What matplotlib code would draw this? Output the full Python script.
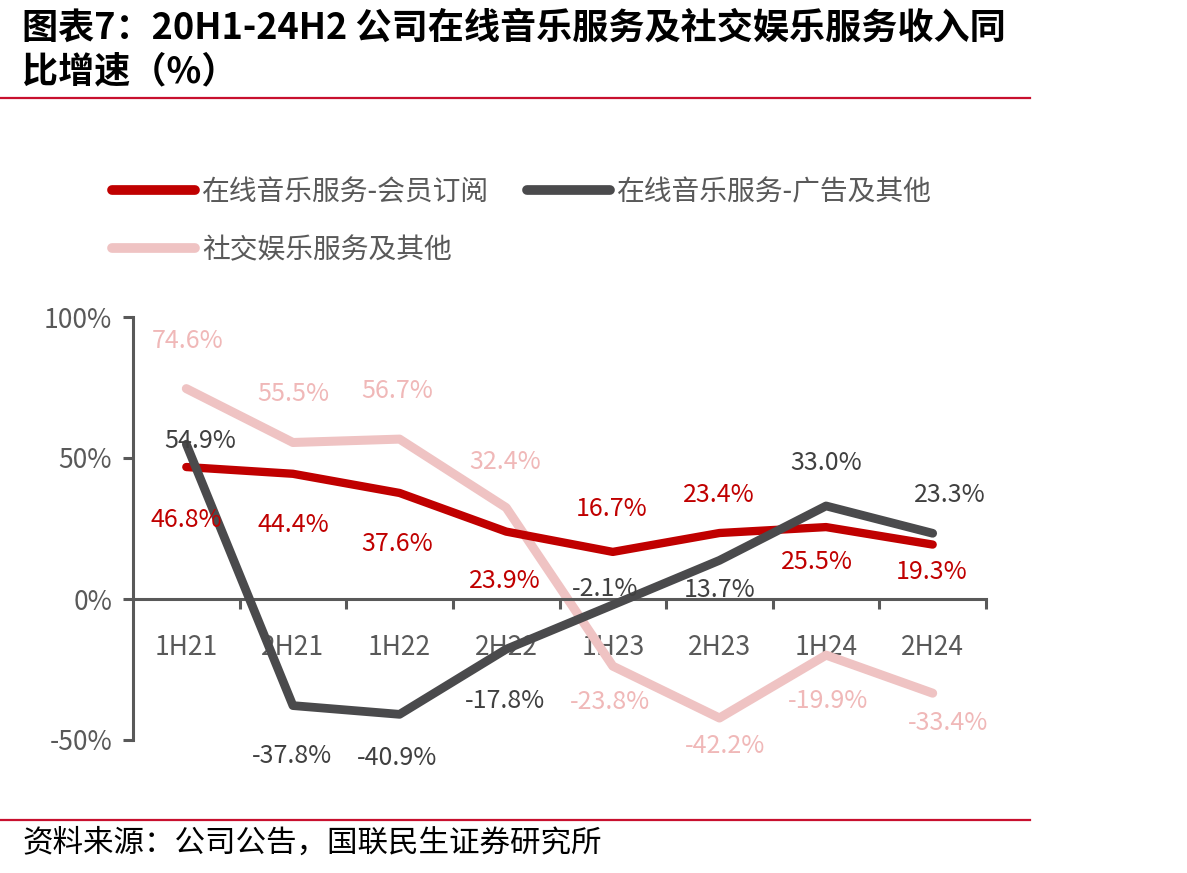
import matplotlib
matplotlib.use('Agg')
import matplotlib.pyplot as plt
from matplotlib.lines import Line2D

plt.rcParams['font.family'] = ['Noto Sans CJK SC', 'DejaVu Sans']

# 数据
periods = ['1H21', '2H21', '1H22', '2H22', '1H23', '2H23', '1H24', '2H24']
member_sub = [46.8, 44.4, 37.6, 23.9, 16.7, 23.4, 25.5, 19.3]
ads_other = [54.9, -37.8, -40.9, -17.8, -2.1, 13.7, 33.0, 23.3]
social_ent = [74.6, 55.5, 56.7, 32.4, -23.8, -42.2, -19.9, -33.4]
series_names = ['在线音乐服务-会员订阅', '在线音乐服务-广告及其他', '社交娱乐服务及其他']

# 样式
c_red, c_gray, c_pink = '#C00000', '#4A4A4C', '#EFC3C3'
lbl_red, lbl_gray, lbl_pink = '#C00000', '#404040', '#F0B8B8'

# 数据标签偏移（像素）
off_red = [(0, -53), (0, -51), (-2, -51), (-1, -49), (-1, 43), (-1, 38), (-9, -35), (-1, -27)]
off_gray = [(14, 3), (-1, -50), (-2, -44), (-1, -52), (-8, 16), (0, -30), (0, 43), (17, 38)]
off_pink = [(1, 48), (0, 48), (-2, 48), (-1, 46), (-3, -36), (6, -28), (2, -46), (15, -30)]

fig = plt.figure(figsize=(11.87, 8.73), dpi=100)
ax = fig.add_axes([133/1187, 1-740/873, (986-133)/1187, (740-317)/873])

x = list(range(len(periods)))
ax.plot(x, social_ent, color=c_pink, lw=6.5, solid_capstyle='round', solid_joinstyle='round', zorder=2)
ax.plot(x, member_sub, color=c_red, lw=6, solid_capstyle='round', solid_joinstyle='round', zorder=3)
ax.plot(x, ads_other, color=c_gray, lw=6.3, solid_capstyle='round', solid_joinstyle='round', zorder=4)

for vals, offs, col in [(member_sub, off_red, lbl_red), (ads_other, off_gray, lbl_gray),
                        (social_ent, off_pink, lbl_pink)]:
    for xi, v, (dx, dy) in zip(x, vals, offs):
        ax.annotate(f'{v:.1f}%', (xi, v), xytext=(dx, dy), textcoords='offset pixels',
                    ha='center', va='center', fontsize=18, color=col, zorder=5)

ax.set_xlim(-0.5, len(periods) - 0.5)
ax.set_ylim(-50, 100)
ax.set_yticks([-50, 0, 50, 100])
ax.set_yticklabels(['-50%', '0%', '50%', '100%'])

for s in ['top', 'right']:
    ax.spines[s].set_visible(False)
ax.spines['bottom'].set_position(('data', 0))
for s in ['left', 'bottom']:
    ax.spines[s].set_color('#595959')
    ax.spines[s].set_linewidth(2.2)

ax.set_xticks(x)
ax.set_xticklabels(periods)
ax.set_xticks([i + 0.5 for i in range(len(periods))], minor=True)
ax.tick_params(axis='x', which='major', length=0, pad=25, labelsize=19, labelcolor='#595959')
ax.tick_params(axis='x', which='minor', length=7, width=2.2, color='#595959', direction='out')
ax.tick_params(axis='y', length=7, width=2.2, color='#595959', labelsize=19, labelcolor='#595959', pad=8)
for lab in ax.get_xticklabels():
    lab.set_zorder(1)

# 图例
handles = [Line2D([], [], color=c_red, lw=7, solid_capstyle='round'),
           Line2D([], [], color=c_pink, lw=7, solid_capstyle='round'),
           Line2D([], [], color=c_gray, lw=7, solid_capstyle='round')]
labels = [series_names[0], series_names[2], series_names[1]]
leg = fig.legend(handles, labels, ncol=2, loc='upper left', bbox_to_anchor=(87/1187, 1-152/873),
                 frameon=False, fontsize=20, handlelength=3.0, handletextpad=0.25,
                 columnspacing=1.35, labelspacing=1.0)
for t in leg.get_texts():
    t.set_color('#595959')

# 标题与来源
fig.text(22/1187, 1-28/873, '图表7：20H1-24H2 公司在线音乐服务及社交娱乐服务收入同', fontsize=26,
         fontweight='bold', ha='left', va='center', color='black')
fig.text(22/1187, 1-72/873, '比增速（%）', fontsize=26, fontweight='bold', ha='left', va='center', color='black')
fig.add_artist(Line2D([0, 1030/1187], [1-98/873, 1-98/873], color='#C8102E', lw=1.6))
fig.add_artist(Line2D([0, 1030/1187], [1-820/873, 1-820/873], color='#C8102E', lw=1.6))
fig.text(22/1187, 1-843/873, '资料来源：公司公告，国联民生证券研究所', fontsize=22, ha='left', va='center',
         color='black')

fig.savefig('out.png', dpi=100)
